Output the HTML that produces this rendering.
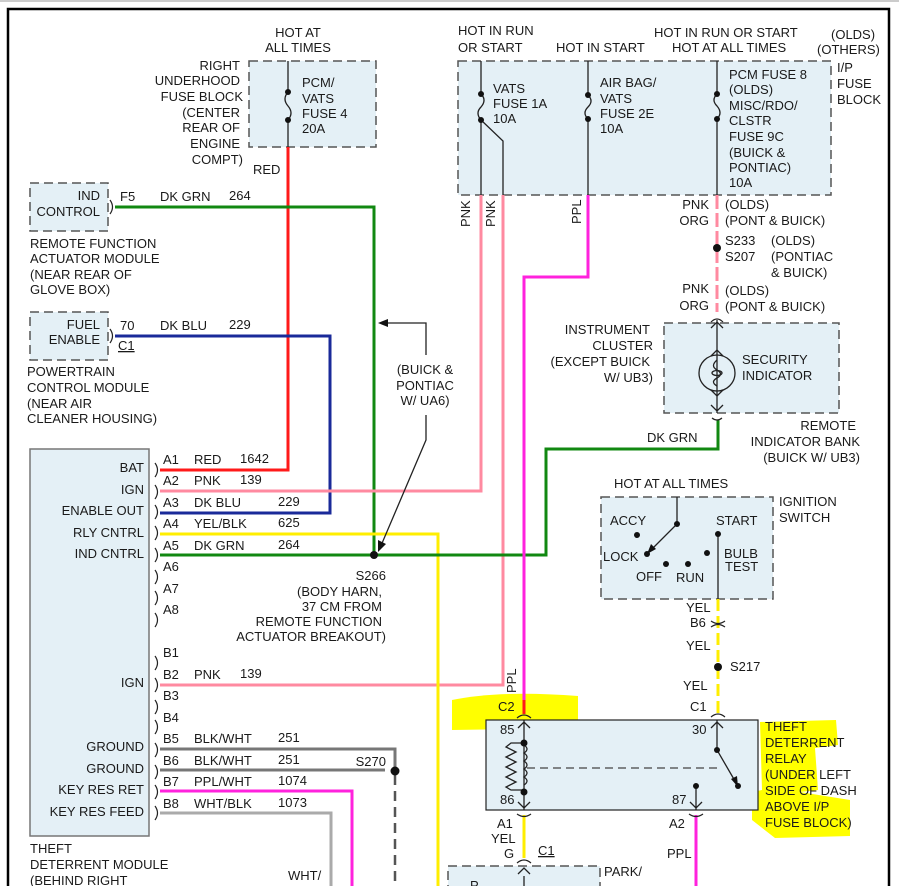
<!DOCTYPE html>
<html><head><meta charset="utf-8"><style>
html,body{margin:0;padding:0;background:#fff;}
svg{display:block;}
text{font-family:"Liberation Sans",sans-serif;font-size:13px;fill:#1a1a1a;}
.r{text-anchor:end;}
.m{text-anchor:middle;}
</style></head><body>
<svg width="899" height="886" viewBox="0 0 899 886" xmlns="http://www.w3.org/2000/svg">
<rect width="899" height="886" fill="#fff"/>
<line x1="0" y1="1" x2="899" y2="1" stroke="#999" stroke-width="1"/>
<path d="M8 886 V9 H889 V886" fill="none" stroke="#000" stroke-width="2.5"/>

<path d="M452 700 Q500 690 578 696 L578 728 L452 730 Z" fill="#ffff00"/>
<path d="M760 722 L836 720 L838 745 L815 748 L818 790 L800 792 L850 800 L850 836 L775 838 L752 820 L752 792 L762 790 Z" fill="#ffff00"/>

<g fill="#e4f0f6">
<rect x="249" y="61" width="127" height="86"/>
<rect x="30" y="183" width="78" height="48"/>
<rect x="30" y="312" width="78" height="48"/>
<rect x="458" y="61" width="373" height="134"/>
<rect x="664" y="323" width="175" height="90"/>
<rect x="601" y="497" width="172" height="102"/>
<rect x="448" y="866" width="152" height="30"/>
</g>
<rect x="30" y="449" width="119" height="387" fill="#e4f0f6" stroke="#777" stroke-width="1.5"/>
<rect x="486" y="720" width="272" height="90" fill="#e4f0f6" stroke="#222" stroke-width="1.2"/>
<g fill="none" stroke="#555" stroke-width="1.5" stroke-dasharray="9,5">
<rect x="249" y="61" width="127" height="86"/>
<rect x="30" y="183" width="78" height="48"/>
<rect x="30" y="312" width="78" height="48"/>
<rect x="458" y="61" width="373" height="134"/>
<rect x="664" y="323" width="175" height="90"/>
<rect x="601" y="497" width="172" height="102"/>
<rect x="448" y="866" width="152" height="30"/>
</g>

<g fill="none" stroke-width="3">
<path d="M288 147 V470 H160" stroke="#ff1a1a"/>
<path d="M115 207 H374 V555" stroke="#118811"/>
<path d="M115 336 H330 V513 H160" stroke="#1a2a99"/>
<path d="M160 491 H481 V195" stroke="#ff8aa0"/>
<path d="M160 685 H503 V195" stroke="#ff8aa0"/>
<path d="M160 534 H438 V886" stroke="#ffee00"/>
<path d="M160 555 H546 V449 H718 V420" stroke="#118811"/>
<path d="M588 195 V277 H524 V714" stroke="#ff22dd"/>
<path d="M524 700 V714" stroke="#ff1a1a"/>
<path d="M160 749 H395 V770" stroke="#777"/>
<path d="M160 770 H385" stroke="#777"/>
<path d="M160 791 H352 V886" stroke="#ff22dd"/>
<path d="M160 813 H331 V886" stroke="#aaa"/>
<path d="M717 195 V312" stroke="#ff8aa0" stroke-dasharray="14,4"/>
<path d="M718 599 V713" stroke="#ffee00" stroke-dasharray="12,5"/>
<path d="M524 815 V858" stroke="#ffee00"/>
<path d="M696 815 V886" stroke="#ff22dd"/>
</g>
<path d="M395 775 V886" stroke="#555" stroke-width="2.5" stroke-dasharray="10,6" fill="none"/>

<g stroke="#222" stroke-width="1.3" fill="none">
<path d="M288 61 V92 M288 120 V147 M288 92 q-6 7 0 14 q6 7 0 14"/>
<path d="M481 61 V94 M481 120 V195 M481 94 q6 6 0 13 q-6 6 0 13 M481 120 L503 141 V195"/>
<path d="M588 61 V95 M588 119 V195 M588 95 q6 6 0 12 q-6 6 0 12"/>
<path d="M717 61 V94 M717 119 V195 M717 94 q-6 6 0 12 q6 7 0 13"/>
<path d="M426 355 V323 H384"/>
<path d="M426 415 V440 L380 548"/>
<path d="M717 320 V413 M711 328 L717 322 L723 328 M711 405 L717 411 L723 405"/>
<circle cx="717" cy="373" r="18"/>
<path d="M711 356 L717 350 L723 356 M711 390 L717 396 L723 390"/>
<path d="M717 360 q-7 6 0 10 q7 4 0 8 q-7 4 0 8"/>
<ellipse cx="717" cy="373" rx="5" ry="2.5"/>
<path d="M677 497 V524 L649 552 M718 534 V599"/>
<path d="M524 720 V810 M518 728 L524 722 L530 728 M518 802 L524 808 L530 802"/>
<path d="M524 743 H511 l-5 4 l10 5 l-10 5 l10 5 l-10 5 l10 5 l-10 5 l10 5 l-10 5 l5 3 H524"/>
<path d="M524 745 q6 4 0 8 q6 4 0 8 q6 4 0 8 q6 4 0 8 q6 4 0 8"/>
<path d="M717 720 V750 L735 781 M711 728 L717 722 L723 728 M696 786 V810 M690 802 L696 808 L702 802"/>
<path d="M524 876 V886 M518 874 L524 868 L530 874"/>
</g>
<path d="M527 768 H720" stroke="#444" stroke-width="1.3" stroke-dasharray="8,5"/>
<g fill="#111">
<polygon points="378,323 388,319 388,327"/>
<polygon points="378,552 378,540 386,544"/>
<polygon points="647,554 651,544 656,549"/>
<polygon points="738,787 731,779 737,776"/>
<circle cx="288" cy="92" r="3"/><circle cx="288" cy="120" r="3"/>
<circle cx="481" cy="94" r="3"/><circle cx="481" cy="120" r="3"/>
<circle cx="588" cy="95" r="3"/><circle cx="588" cy="119" r="3"/>
<circle cx="717" cy="94" r="3"/><circle cx="717" cy="119" r="3"/>
<circle cx="717" cy="248" r="4"/>
<circle cx="374" cy="555" r="4"/>
<circle cx="395" cy="771" r="4.5"/>
<circle cx="718" cy="667" r="4"/>
<circle cx="677" cy="524" r="3"/><circle cx="637" cy="535" r="3"/><circle cx="647" cy="554" r="3"/>
<circle cx="666" cy="564" r="3"/><circle cx="688" cy="564" r="3"/><circle cx="707" cy="553" r="3"/><circle cx="718" cy="534" r="3"/>
<circle cx="524" cy="743" r="3.5"/><circle cx="524" cy="792" r="3.5"/>
<circle cx="717" cy="750" r="3"/><circle cx="738" cy="786" r="3"/><circle cx="696" cy="786" r="3"/>
</g>

<g stroke="#222" stroke-width="1.2" fill="none">
<path d="M110 200 q5 7 0 14 M110 329 q5 7 0 14"/>
<g id="cn">
<path d="M155 463 q5 7 0 14"/>
</g>
<use href="#cn" y="22"/><use href="#cn" y="42"/><use href="#cn" y="63"/><use href="#cn" y="85"/>
<use href="#cn" y="107"/><use href="#cn" y="128"/><use href="#cn" y="150"/>
<use href="#cn" y="193"/><use href="#cn" y="215"/><use href="#cn" y="237"/><use href="#cn" y="257"/>
<use href="#cn" y="280"/><use href="#cn" y="302"/><use href="#cn" y="322"/><use href="#cn" y="343"/>
<path d="M711 322 q6 -6 12 0 M712 418 q5 4 10 0"/>
<path d="M711 621 q7 5 14 0 M711 627 q7 -5 14 0"/>
<path d="M711 717 q7 -6 14 0 M517 718 q7 -6 14 0"/>
<path d="M517 814 q7 5 14 0 M689 814 q7 5 14 0 M517 863 q7 -6 14 0"/>
</g>

<text class="m" x="298" y="37">HOT AT</text>
<text class="m" x="298" y="52">ALL TIMES</text>
<text class="r" x="240" y="70">RIGHT</text>
<text class="r" x="240" y="85">UNDERHOOD</text>
<text class="r" x="243" y="101">FUSE BLOCK</text>
<text class="r" x="240" y="117">(CENTER</text>
<text class="r" x="240" y="132">REAR OF</text>
<text class="r" x="240" y="148">ENGINE</text>
<text class="r" x="243" y="164">COMPT)</text>
<text x="302" y="87">PCM/</text><text x="302" y="103">VATS</text><text x="302" y="118">FUSE 4</text><text x="302" y="133">20A</text>
<text x="253" y="174">RED</text>

<text class="r" x="100" y="200">IND</text><text class="r" x="100" y="216">CONTROL</text>
<text x="120" y="201">F5</text><text x="160" y="201">DK GRN</text><text x="229" y="200">264</text>
<text x="30" y="248">REMOTE FUNCTION</text><text x="30" y="263">ACTUATOR MODULE</text>
<text x="30" y="279">(NEAR REAR OF</text><text x="30" y="294">GLOVE BOX)</text>
<text class="r" x="100" y="329">FUEL</text><text class="r" x="100" y="344">ENABLE</text>
<text x="120" y="330">70</text><text x="160" y="330">DK BLU</text><text x="229" y="329">229</text>
<text x="118" y="350" text-decoration="underline">C1</text>
<text x="27" y="376">POWERTRAIN</text><text x="27" y="392">CONTROL MODULE</text>
<text x="27" y="408">(NEAR AIR</text><text x="27" y="423">CLEANER HOUSING)</text>
<text class="m" x="425" y="374">(BUICK &amp;</text><text class="m" x="425" y="390">PONTIAC</text><text class="m" x="425" y="405">W/ UA6)</text>

<text class="r" x="144" y="472">BAT</text><text class="r" x="144" y="494">IGN</text>
<text class="r" x="144" y="515">ENABLE OUT</text><text class="r" x="144" y="537">RLY CNTRL</text>
<text class="r" x="144" y="558">IND CNTRL</text><text class="r" x="144" y="687">IGN</text>
<text class="r" x="144" y="751">GROUND</text><text class="r" x="144" y="773">GROUND</text>
<text class="r" x="144" y="794">KEY RES RET</text><text class="r" x="144" y="816">KEY RES FEED</text>
<text x="163" y="464">A1</text><text x="194" y="464">RED</text><text x="240" y="463">1642</text>
<text x="163" y="485">A2</text><text x="194" y="485">PNK</text><text x="240" y="484">139</text>
<text x="163" y="507">A3</text><text x="194" y="507">DK BLU</text><text x="278" y="506">229</text>
<text x="163" y="528">A4</text><text x="194" y="528">YEL/BLK</text><text x="278" y="527">625</text>
<text x="163" y="550">A5</text><text x="194" y="550">DK GRN</text><text x="278" y="549">264</text>
<text x="163" y="571">A6</text><text x="163" y="593">A7</text><text x="163" y="614">A8</text>
<text x="163" y="657">B1</text>
<text x="163" y="679">B2</text><text x="194" y="679">PNK</text><text x="240" y="678">139</text>
<text x="163" y="700">B3</text><text x="163" y="722">B4</text>
<text x="163" y="743">B5</text><text x="194" y="743">BLK/WHT</text><text x="278" y="742">251</text>
<text x="163" y="765">B6</text><text x="194" y="765">BLK/WHT</text><text x="278" y="764">251</text>
<text x="163" y="786">B7</text><text x="194" y="786">PPL/WHT</text><text x="278" y="785">1074</text>
<text x="163" y="808">B8</text><text x="194" y="808">WHT/BLK</text><text x="278" y="807">1073</text>
<text class="r" x="386" y="580">S266</text>
<text class="r" x="382" y="596">(BODY HARN,</text><text class="r" x="382" y="611">37 CM FROM</text>
<text class="r" x="382" y="626">REMOTE FUNCTION</text><text class="r" x="386" y="641">ACTUATOR BREAKOUT)</text>
<text class="r" x="386" y="766">S270</text>
<text x="30" y="853">THEFT</text><text x="30" y="869">DETERRENT MODULE</text><text x="30" y="885">(BEHIND RIGHT</text>
<text x="288" y="880">WHT/</text>

<text x="458" y="35">HOT IN RUN</text><text x="458" y="52">OR START</text>
<text x="556" y="52">HOT IN START</text>
<text x="654" y="37">HOT IN RUN OR START</text><text x="672" y="52">HOT AT ALL TIMES</text>
<text x="831" y="39">(OLDS)</text><text x="817" y="54">(OTHERS)</text>
<text x="837" y="72">I/P</text><text x="837" y="88">FUSE</text><text x="837" y="104">BLOCK</text>
<text x="493" y="93">VATS</text><text x="493" y="108">FUSE 1A</text><text x="493" y="123">10A</text>
<text x="600" y="87">AIR BAG/</text><text x="600" y="103">VATS</text><text x="600" y="118">FUSE 2E</text><text x="600" y="133">10A</text>
<text x="729" y="79">PCM FUSE 8</text><text x="729" y="94">(OLDS)</text><text x="729" y="110">MISC/RDO/</text>
<text x="729" y="125">CLSTR</text><text x="729" y="141">FUSE 9C</text><text x="729" y="157">(BUICK &amp;</text>
<text x="729" y="172">PONTIAC)</text><text x="729" y="187">10A</text>
<text transform="translate(470,227) rotate(-90)">PNK</text>
<text transform="translate(495,227) rotate(-90)">PNK</text>
<text transform="translate(581,224) rotate(-90)">PPL</text>
<text transform="translate(516,693) rotate(-90)">PPL</text>
<text class="r" x="709" y="209">PNK</text><text class="r" x="709" y="225">ORG</text>
<text x="725" y="209">(OLDS)</text><text x="725" y="225">(PONT &amp; BUICK)</text>
<text x="725" y="245">S233</text><text x="725" y="261">S207</text>
<text x="771" y="245">(OLDS)</text><text x="771" y="261">(PONTIAC</text><text x="771" y="277">&amp; BUICK)</text>
<text class="r" x="709" y="293">PNK</text><text class="r" x="709" y="310">ORG</text>
<text x="725" y="295">(OLDS)</text><text x="725" y="311">(PONT &amp; BUICK)</text>
<text class="r" x="650" y="334">INSTRUMENT</text><text class="r" x="653" y="350">CLUSTER</text>
<text class="r" x="650" y="366">(EXCEPT BUICK</text><text class="r" x="653" y="382">W/ UB3)</text>
<text x="742" y="364">SECURITY</text><text x="742" y="380">INDICATOR</text>
<text class="r" x="856" y="430">REMOTE</text><text class="r" x="860" y="446">INDICATOR BANK</text>
<text class="r" x="860" y="462">(BUICK W/ UB3)</text>
<text x="647" y="442">DK GRN</text>
<text x="614" y="488">HOT AT ALL TIMES</text>
<text x="779" y="506">IGNITION</text><text x="779" y="522">SWITCH</text>
<text x="610" y="525">ACCY</text><text x="603" y="561">LOCK</text>
<text x="636" y="581">OFF</text><text x="676" y="582">RUN</text>
<text x="716" y="525">START</text><text x="724" y="558">BULB</text><text x="725" y="571">TEST</text>
<text x="686" y="612">YEL</text><text x="690" y="627">B6</text><text x="686" y="650">YEL</text>
<text x="730" y="671">S217</text><text x="683" y="690">YEL</text><text x="690" y="711">C1</text>
<text x="498" y="711">C2</text>
<text x="500" y="734">85</text><text x="500" y="804">86</text>
<text x="692" y="734">30</text><text x="672" y="804">87</text>
<text x="765" y="731">THEFT</text><text x="765" y="747">DETERRENT</text><text x="765" y="763">RELAY</text>
<text x="765" y="779">(UNDER LEFT</text><text x="765" y="795">SIDE OF DASH</text>
<text x="765" y="811">ABOVE I/P</text><text x="765" y="827">FUSE BLOCK)</text>
<text x="497" y="828">A1</text><text x="491" y="843">YEL</text><text x="504" y="858">G</text>
<text x="538" y="855" text-decoration="underline">C1</text>
<text x="669" y="828">A2</text><text x="667" y="858">PPL</text>
<text x="604" y="876">PARK/</text>
<text x="470" y="890">P</text>
</svg>
</body></html>
